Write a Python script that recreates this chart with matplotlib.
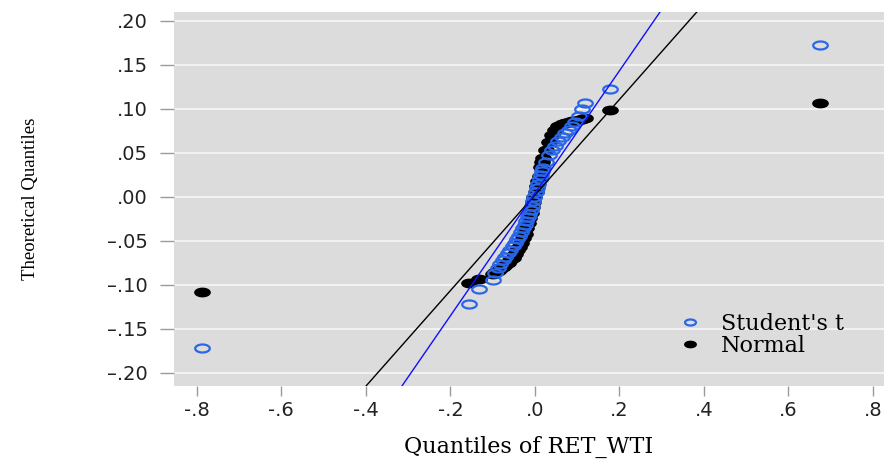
import matplotlib
matplotlib.use("Agg")
import matplotlib.pyplot as plt
import numpy as np
from matplotlib.path import Path

# ---------- data ----------
# empirical quantiles of RET_WTI (shared by both series)
ret_q = [-0.787, -0.156, -0.133, -0.100, -0.094, -0.088, -0.082, -0.076,
         -0.070, -0.064, -0.058, -0.052, -0.047, -0.042, -0.037, -0.032,
         -0.028, -0.024, -0.020, -0.016, -0.013, -0.010, -0.007, -0.004,
         -0.001, 0.002, 0.005, 0.008, 0.011, 0.014, 0.017, 0.020, 0.026,
         0.033, 0.040, 0.047, 0.055, 0.064, 0.072, 0.080, 0.088, 0.096,
         0.104, 0.112, 0.118, 0.178, 0.675]

# theoretical quantiles, normal
normal_q = [-0.108, -0.098, -0.093, -0.088, -0.086, -0.084, -0.082, -0.080,
            -0.078, -0.075, -0.072, -0.069, -0.065, -0.061, -0.057, -0.052,
            -0.047, -0.042, -0.036, -0.030, -0.024, -0.018, -0.012, -0.006,
            0.000, 0.006, 0.012, 0.018, 0.024, 0.034, 0.039, 0.044, 0.053,
            0.062, 0.070, 0.076, 0.080, 0.083, 0.084, 0.085, 0.086, 0.086,
            0.087, 0.088, 0.090, 0.099, 0.107]

# theoretical quantiles, student's t
student_q = [-0.172, -0.122, -0.105, -0.094, -0.087, -0.081, -0.076, -0.072,
             -0.068, -0.064, -0.060, -0.056, -0.052, -0.048, -0.044, -0.040,
             -0.036, -0.032, -0.028, -0.023, -0.019, -0.015, -0.010, -0.005,
             0.000, 0.005, 0.010, 0.015, 0.020, 0.025, 0.029, 0.033, 0.040,
             0.047, 0.053, 0.058, 0.063, 0.068, 0.072, 0.076, 0.080, 0.085,
             0.092, 0.100, 0.107, 0.123, 0.173]

# reference lines (intercept, slope)
normal_line = (0.002, 0.543)
student_line = (0.004, 0.696)

x_ticks = [-0.8, -0.6, -0.4, -0.2, 0.0, 0.2, 0.4, 0.6, 0.8]
x_ticklabels = ["-.8", "-.6", "-.4", "-.2", ".0", ".2", ".4", ".6", ".8"]
y_ticks = [0.20, 0.15, 0.10, 0.05, 0.0, -0.05, -0.10, -0.15, -0.20]
y_ticklabels = [".20", ".15", ".10", ".05", ".00", "\u2013.05", "\u2013.10",
                "\u2013.15", "\u2013.20"]

# ---------- figure ----------
fig = plt.figure(figsize=(8.84, 4.59), dpi=100)
ax = fig.add_axes([174 / 884, 1 - 386 / 459, 710 / 884, 374 / 459])
ax.set_facecolor("#dcdcdc")
xlim = (-0.854, 0.826)
ylim = (-0.215, 0.210)
ax.set_xlim(*xlim)
ax.set_ylim(*ylim)

# wide ellipse marker (the original picture is stretched sideways)
t = np.linspace(0, 2 * np.pi, 40)
ellipse = Path(np.column_stack([np.cos(t), 0.55 * np.sin(t)]), closed=True)

for y in y_ticks:
    ax.axhline(y, color="#f2f2f2", lw=1.5, zorder=1)

ax.plot(ret_q, normal_q, ls="none", marker=ellipse, ms=11,
        mfc="black", mec="black", mew=1.0, zorder=3, label="Normal")
ax.plot(ret_q, student_q, ls="none", marker=ellipse, ms=10.5,
        mfc="none", mec="#2a66e8", mew=1.6, zorder=4, label="Student's t")

xs = np.array(xlim)
ax.plot(xs, normal_line[0] + normal_line[1] * xs, color="black", lw=1.0, zorder=5)
ax.plot(xs, student_line[0] + student_line[1] * xs, color="#1010ff", lw=1.0, zorder=5)

for s in ax.spines.values():
    s.set_visible(False)

ax.set_xticks(x_ticks)
ax.set_xticklabels(x_ticklabels)
ax.set_yticks(y_ticks)
ax.set_yticklabels(y_ticklabels)
ax.tick_params(axis="y", length=10, width=1, color="#9a9a9a", pad=9,
               labelsize=14, labelcolor="#222222")
ax.tick_params(axis="x", length=7, width=1, color="#9a9a9a", pad=4,
               labelsize=14, labelcolor="#222222")
for lab in ax.get_xticklabels() + ax.get_yticklabels():
    lab.set_fontfamily("DejaVu Sans")

ax.set_xlabel("Quantiles of RET_WTI", fontsize=16, family="DejaVu Serif",
              labelpad=11)
ax.set_ylabel("Theoretical Quantiles", fontsize=13.5, family="Liberation Serif",
              labelpad=49)

handles, labels = ax.get_legend_handles_labels()
leg = ax.legend(handles[::-1], labels[::-1], loc="lower right",
                bbox_to_anchor=(0.972, 0.025), frameon=False,
                prop={"family": "DejaVu Serif", "size": 16},
                handletextpad=0.9, labelspacing=0.0, handlelength=1.0,
                markerscale=0.75)

fig.savefig("out.png", dpi=100)
